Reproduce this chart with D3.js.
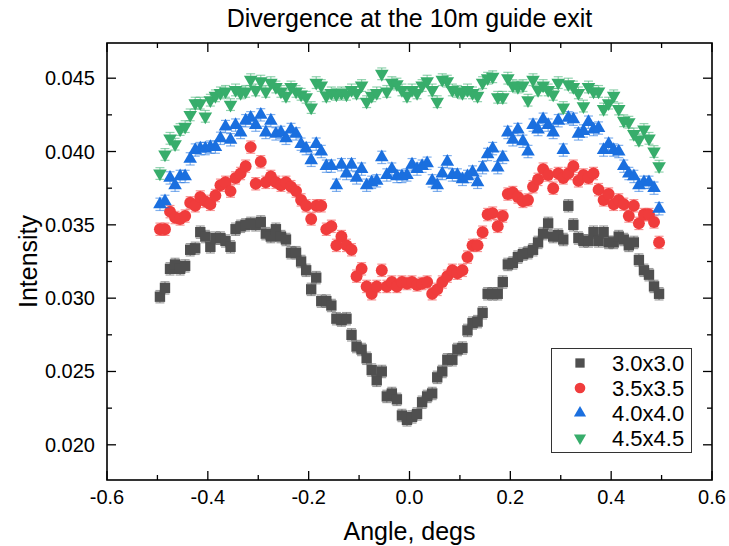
<!DOCTYPE html>
<html>
<head>
<meta charset="utf-8">
<script src="https://cdn.jsdelivr.net/npm/d3@7"></script>
<style>
html,body{margin:0;padding:0;background:#fff;}
svg{display:block;}
text{font-family:"Liberation Sans",Arial,Helvetica,sans-serif;fill:#000;}
</style>
</head>
<body>
<svg id="chart" width="729" height="546"></svg>
<script>
// ---- data ----
const angleStart = -0.495, angleStep = 0.01, nPoints = 100;
const seriesNames = ["3.0x3.0", "3.5x3.5", "4.0x4.0", "4.5x4.5"];
const s30 = [0.0301,0.0307,0.0320,0.0323,0.0320,0.0322,0.0333,0.0334,0.0345,0.0342,
0.0335,0.0341,0.0341,0.0339,0.0335,0.0347,0.0349,0.0350,0.0351,0.0350,
0.0352,0.0344,0.0342,0.0347,0.0342,0.0340,0.0331,0.0331,0.0325,0.0319,
0.0306,0.0314,0.0298,0.0298,0.0295,0.0286,0.0285,0.0286,0.0275,0.0267,
0.0265,0.0259,0.0251,0.0244,0.0250,0.0233,0.0235,0.0231,0.0220,0.0217,
0.0219,0.0221,0.0229,0.0233,0.0235,0.0246,0.0250,0.0258,0.0258,0.0265,
0.0266,0.0278,0.0283,0.0284,0.0290,0.0303,0.0303,0.0303,0.0311,0.0323,
0.0324,0.0328,0.0330,0.0331,0.0333,0.0338,0.0344,0.0351,0.0342,0.0343,
0.0340,0.0363,0.0350,0.0341,0.0339,0.0339,0.0345,0.0339,0.0345,0.0338,
0.0338,0.0342,0.0340,0.0336,0.0338,0.0326,0.0319,0.0316,0.0308,0.0303];
const s35 = [0.0347,0.0347,0.0359,0.0355,0.0354,0.0356,0.0365,0.0363,0.0369,0.0366,
0.0364,0.0370,0.0377,0.0379,0.0373,0.0382,0.0385,0.0390,0.0403,0.0378,
0.0393,0.0379,0.0383,0.0379,0.0377,0.0379,0.0376,0.0373,0.0367,0.0363,
0.0354,0.0363,0.0363,0.0347,0.0349,0.0336,0.0342,0.0336,0.0333,0.0315,
0.0320,0.0308,0.0303,0.0308,0.0319,0.0308,0.0311,0.0308,0.0311,0.0310,
0.0311,0.0309,0.0310,0.0311,0.0303,0.0306,0.0311,0.0315,0.0319,0.0317,
0.0319,0.0328,0.0336,0.0336,0.0345,0.0357,0.0358,0.0349,0.0356,0.0371,
0.0372,0.0369,0.0366,0.0367,0.0376,0.0381,0.0388,0.0384,0.0375,0.0385,
0.0382,0.0385,0.0390,0.0380,0.0384,0.0382,0.0385,0.0374,0.0367,0.0371,
0.0364,0.0367,0.0364,0.0356,0.0363,0.0351,0.0357,0.0357,0.0352,0.0338];
const s40 = [0.0364,0.0366,0.0382,0.0377,0.0383,0.0383,0.0395,0.0401,0.0402,0.0402,
0.0403,0.0403,0.0409,0.0417,0.0408,0.0418,0.0413,0.0421,0.0423,0.0418,
0.0425,0.0413,0.0421,0.0412,0.0413,0.0409,0.0415,0.0412,0.0405,0.0402,
0.0394,0.0405,0.0400,0.0390,0.0390,0.0377,0.0391,0.0385,0.0391,0.0382,
0.0388,0.0377,0.0379,0.0380,0.0396,0.0384,0.0388,0.0383,0.0383,0.0384,
0.0391,0.0388,0.0390,0.0392,0.0380,0.0377,0.0385,0.0393,0.0384,0.0384,
0.0381,0.0383,0.0386,0.0379,0.0389,0.0398,0.0402,0.0389,0.0396,0.0413,
0.0408,0.0415,0.0407,0.0400,0.0418,0.0415,0.0422,0.0418,0.0413,0.0421,
0.0401,0.0423,0.0422,0.0412,0.0414,0.0420,0.0415,0.0416,0.0401,0.0405,
0.0401,0.0400,0.0390,0.0385,0.0383,0.0377,0.0379,0.0379,0.0375,0.0361];
const s45 = [0.0385,0.0398,0.0409,0.0405,0.0415,0.0417,0.0425,0.0433,0.0433,0.0424,
0.0435,0.0438,0.0440,0.0441,0.0432,0.0442,0.0440,0.0441,0.0449,0.0442,
0.0448,0.0441,0.0447,0.0444,0.0441,0.0438,0.0444,0.0441,0.0439,0.0437,
0.0430,0.0447,0.0445,0.0438,0.0440,0.0439,0.0440,0.0439,0.0442,0.0440,
0.0445,0.0434,0.0438,0.0440,0.0453,0.0441,0.0447,0.0446,0.0442,0.0438,
0.0442,0.0440,0.0445,0.0448,0.0442,0.0434,0.0449,0.0448,0.0442,0.0441,
0.0440,0.0442,0.0440,0.0438,0.0447,0.0450,0.0451,0.0437,0.0437,0.0450,
0.0445,0.0444,0.0445,0.0435,0.0449,0.0442,0.0445,0.0442,0.0439,0.0447,
0.0430,0.0446,0.0444,0.0440,0.0431,0.0444,0.0441,0.0441,0.0429,0.0433,
0.0438,0.0429,0.0421,0.0420,0.0412,0.0408,0.0415,0.0409,0.0400,0.0390];
const seriesErrors = [0.00042, 0.00042, 0.00042, 0.0004];
const xTicks = [-0.6,-0.4,-0.2,0.0,0.2,0.4,0.6];
const xMinorTicks = [-0.5,-0.3,-0.1,0.1,0.3,0.5];
const yTicks = [0.020,0.025,0.030,0.035,0.040,0.045];
const yMinorTicks = [0.0225,0.0275,0.0325,0.0375,0.0425];

// ---- styling ----
const colors = ["#4f4f4f", "#f03c3c", "#1a6fdf", "#37ad6b"];
const shapes = ["square", "circle", "triangle", "triangleDown"];
const W = 729, H = 546;
const M = {left:107, right:712, top:43, bottom:480};

const svg = d3.select("#chart");
const x = d3.scaleLinear().domain([-0.6, 0.6]).range([M.left, M.right]);
const y = d3.scaleLinear().domain([0.0176, 0.0474]).range([M.bottom, M.top]);

const allSeries = [s30, s35, s40, s45].map((vals, k) => ({
  name: seriesNames[k], color: colors[k], shape: shapes[k], err: seriesErrors[k],
  points: vals.map((v, i) => ({a: angleStart + i*angleStep, v}))
}));

function symbolPath(shape, scale) {
  scale = scale || 1;
  if (shape === "square") return d3.symbol().type(d3.symbolSquare).size(108*scale)();
  if (shape === "circle") return d3.symbol().type(d3.symbolCircle).size(112*scale)();
  return d3.symbol().type(d3.symbolTriangle).size(80*scale)();
}

// error bars + markers
allSeries.forEach(s => {
  const g = svg.append("g");
  const eb = g.append("g").attr("stroke", s.color).attr("stroke-opacity", 0.55).attr("stroke-width", 1.2);
  s.points.forEach(p => {
    const cx = x(p.a), y1 = y(p.v + s.err), y2 = y(p.v - s.err);
    eb.append("line").attr("x1", cx).attr("x2", cx).attr("y1", y1).attr("y2", y2);
    eb.append("line").attr("x1", cx-4.5).attr("x2", cx+4.5).attr("y1", y1).attr("y2", y1);
    eb.append("line").attr("x1", cx-4.5).attr("x2", cx+4.5).attr("y1", y2).attr("y2", y2);
  });
  const d = symbolPath(s.shape);
  g.selectAll("path.m").data(s.points).join("path")
    .attr("class", "m")
    .attr("d", d)
    .attr("fill", s.color)
    .attr("transform", p => `translate(${x(p.a)},${y(p.v)})` + (s.shape === "triangleDown" ? " rotate(180)" : ""));
});

// axes (frame with inward ticks)
const axG = svg.append("g").attr("stroke", "#000").attr("fill", "none");
axG.append("rect").attr("x", M.left).attr("y", M.top)
  .attr("width", M.right - M.left).attr("height", M.bottom - M.top)
  .attr("stroke-width", 1.6);
const majorLen = 9, minorLen = 5;
xTicks.forEach(t => {
  axG.append("line").attr("x1", x(t)).attr("x2", x(t)).attr("y1", M.bottom).attr("y2", M.bottom - majorLen).attr("stroke-width", 1.3);
  axG.append("line").attr("x1", x(t)).attr("x2", x(t)).attr("y1", M.top).attr("y2", M.top + majorLen).attr("stroke-width", 1.3);
});
xMinorTicks.forEach(t => {
  axG.append("line").attr("x1", x(t)).attr("x2", x(t)).attr("y1", M.bottom).attr("y2", M.bottom - minorLen).attr("stroke-width", 1.3);
  axG.append("line").attr("x1", x(t)).attr("x2", x(t)).attr("y1", M.top).attr("y2", M.top + minorLen).attr("stroke-width", 1.3);
});
yTicks.forEach(t => {
  axG.append("line").attr("y1", y(t)).attr("y2", y(t)).attr("x1", M.left).attr("x2", M.left + majorLen).attr("stroke-width", 1.3);
  axG.append("line").attr("y1", y(t)).attr("y2", y(t)).attr("x1", M.right).attr("x2", M.right - majorLen).attr("stroke-width", 1.3);
});
yMinorTicks.forEach(t => {
  axG.append("line").attr("y1", y(t)).attr("y2", y(t)).attr("x1", M.left).attr("x2", M.left + minorLen).attr("stroke-width", 1.3);
  axG.append("line").attr("y1", y(t)).attr("y2", y(t)).attr("x1", M.right).attr("x2", M.right - minorLen).attr("stroke-width", 1.3);
});

// tick labels
const xFmt = d3.format(".1f"), yFmt = d3.format(".3f");
svg.append("g").selectAll("text").data(xTicks).join("text")
  .attr("x", d => x(d)).attr("y", M.bottom + 24)
  .attr("text-anchor", "middle").attr("font-size", 20)
  .text(d => xFmt(d).replace("\u2212", "-"));
svg.append("g").selectAll("text").data(yTicks).join("text")
  .attr("x", M.left - 12).attr("y", d => y(d) + 7)
  .attr("text-anchor", "end").attr("font-size", 20)
  .text(d => yFmt(d));

// titles
svg.append("text").attr("x", (M.left + M.right)/2).attr("y", 27)
  .attr("text-anchor", "middle").attr("font-size", 25)
  .text("Divergence at the 10m guide exit");
svg.append("text").attr("x", (M.left + M.right)/2).attr("y", 540)
  .attr("text-anchor", "middle").attr("font-size", 25)
  .text("Angle, degs");
svg.append("text").attr("transform", `translate(37,${(M.top + M.bottom)/2}) rotate(-90)`)
  .attr("text-anchor", "middle").attr("font-size", 25)
  .text("Intensity");

// legend
const lg = svg.append("g");
lg.append("rect").attr("x", 551.5).attr("y", 348.5).attr("width", 140).attr("height", 104)
  .attr("fill", "#fff").attr("stroke", "#333").attr("stroke-width", 1);
allSeries.forEach((s, k) => {
  const ly = 363 + k*25;
  lg.append("path").attr("d", symbolPath(s.shape, 0.8)).attr("fill", s.color)
    .attr("transform", `translate(580,${ly})` + (s.shape === "triangleDown" ? " rotate(180)" : ""));
  lg.append("text").attr("x", 612).attr("y", ly + 8).attr("font-size", 22).text(s.name);
});
</script>
</body>
</html>
